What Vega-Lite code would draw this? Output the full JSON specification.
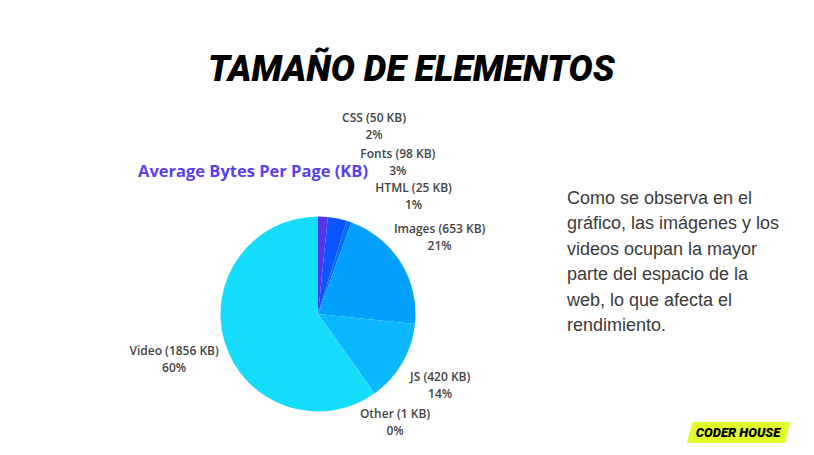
{
  "$schema": "https://vega.github.io/schema/vega-lite/v6.json",
  "background": "white",
  "padding": {"left": 129, "top": 51, "right": 0, "bottom": 0},
  "title": {
    "text": "TAMAÑO DE ELEMENTOS",
    "font": "Roboto",
    "fontSize": 36,
    "fontWeight": 900,
    "fontStyle": "italic",
    "color": "#000000",
    "anchor": "middle",
    "offset": 23,
    "dx": -57
  },
  "config": {"view": {"stroke": null}},
  "datasets": {
    "bytes": [
      {"cat": "CSS", "idx": 1, "kb": 50, "label": "CSS (50 KB)\n2%"},
      {"cat": "Fonts", "idx": 2, "kb": 98, "label": "Fonts (98 KB)\n3%"},
      {"cat": "HTML", "idx": 3, "kb": 25, "label": "HTML (25 KB)\n1%"},
      {"cat": "Images", "idx": 4, "kb": 653, "label": "Images (653 KB)\n21%"},
      {"cat": "JS", "idx": 5, "kb": 420, "label": "JS (420 KB)\n14%"},
      {"cat": "Other", "idx": 6, "kb": 1, "label": "Other (1 KB)\n0%"},
      {"cat": "Video", "idx": 7, "kb": 1856, "label": "Video (1856 KB)\n60%"}
    ],
    "para": [
      {"line": 1, "text": "Como se observa en el"},
      {"line": 2, "text": "gráfico, las imágenes y los"},
      {"line": 3, "text": "videos ocupan la mayor"},
      {"line": 4, "text": "parte del espacio de la"},
      {"line": 5, "text": "web, lo que afecta el"},
      {"line": 6, "text": "rendimiento."}
    ],
    "logo": [{"name": "CODER HOUSE"}]
  },
  "hconcat": [
    {
      "width": 360,
      "height": 256,
      "title": {
        "text": "Average Bytes Per Page (KB)",
        "font": "Open Sans",
        "fontSize": 16.5,
        "fontWeight": "bold",
        "color": "#5b40ee",
        "anchor": "start",
        "frame": "group",
        "offset": 0,
        "dy": 69
      },
      "data": {"name": "bytes"},
      "encoding": {
        "theta": {"field": "kb", "type": "quantitative", "stack": true},
        "order": {"field": "idx", "type": "quantitative"}
      },
      "layer": [
        {
          "mark": {"type": "arc", "outerRadius": 97.5},
          "encoding": {
            "color": {
              "field": "cat",
              "type": "nominal",
              "scale": {
                "domain": ["CSS", "Fonts", "HTML", "Images", "JS", "Other", "Video"],
                "range": ["#5535e8", "#0a55ff", "#0070fb", "#03a0fd", "#0bb8fd", "#12c8fc", "#16dcfb"]
              },
              "legend": null
            }
          }
        },
        {
          "mark": {
            "type": "text",
            "font": "Open Sans",
            "fontSize": 12,
            "fontWeight": 600,
            "color": "#444444",
            "lineBreak": "\n",
            "lineHeight": 17,
            "align": "center",
            "baseline": "middle",
            "dy": -8.5
          },
          "encoding": {
            "text": {
              "condition": {"test": "indexof(['Images','JS','Other','Video'], datum.cat) >= 0", "field": "label"},
              "value": ""
            },
            "radius": {
              "field": "kb",
              "type": "quantitative",
              "scale": {"type": "sqrt", "domain": [1, 1856], "range": [133, 151], "zero": false}
            }
          }
        },
        {
          "mark": {
            "type": "text",
            "font": "Open Sans",
            "fontSize": 12,
            "fontWeight": 600,
            "color": "#444444",
            "lineBreak": "\n",
            "lineHeight": 17,
            "align": "center",
            "baseline": "middle",
            "radius": 188,
            "dx": 46.5,
            "dy": -8.5
          },
          "encoding": {
            "text": {
              "condition": {"test": "datum.cat === 'CSS'", "field": "label"},
              "value": ""
            }
          }
        },
        {
          "mark": {
            "type": "text",
            "font": "Open Sans",
            "fontSize": 12,
            "fontWeight": 600,
            "color": "#444444",
            "lineBreak": "\n",
            "lineHeight": 17,
            "align": "center",
            "baseline": "middle",
            "radius": 155,
            "dx": 49,
            "dy": -8.5
          },
          "encoding": {
            "text": {
              "condition": {"test": "datum.cat === 'Fonts'", "field": "label"},
              "value": ""
            }
          }
        },
        {
          "mark": {
            "type": "text",
            "font": "Open Sans",
            "fontSize": 12,
            "fontWeight": 600,
            "color": "#444444",
            "lineBreak": "\n",
            "lineHeight": 17,
            "align": "center",
            "baseline": "middle",
            "radius": 124,
            "dx": 56,
            "dy": -8.5
          },
          "encoding": {
            "text": {
              "condition": {"test": "datum.cat === 'HTML'", "field": "label"},
              "value": ""
            }
          }
        }
      ]
    },
    {
      "vconcat": [
        {
          "width": 240,
          "height": 153,
          "data": {"name": "para"},
          "mark": {
            "type": "text",
            "font": "Liberation Sans",
            "fontSize": 18,
            "color": "#3b3b3b",
            "align": "left",
            "baseline": "middle"
          },
          "encoding": {
            "y": {"field": "line", "type": "ordinal", "axis": null},
            "x": {"value": 0},
            "text": {"field": "text"}
          }
        },
        {
          "width": 240,
          "height": 21,
          "data": {"name": "logo"},
          "layer": [
            {
              "mark": {
                "type": "point",
                "shape": "M 5.7 -10.5 L 103 -10.5 L 98 10.5 L -0.3 10.5 Z",
                "size": 4,
                "filled": true,
                "color": "#e2fb2b",
                "opacity": 1
              },
              "encoding": {}
            },
            {
              "mark": {
                "type": "text",
                "font": "Roboto",
                "fontSize": 13,
                "fontWeight": 900,
                "fontStyle": "italic",
                "color": "#000000",
                "align": "center",
                "baseline": "middle",
                "dx": 51
              },
              "encoding": {"text": {"field": "name"}}
            }
          ]
        }
      ],
      "spacing": 83
    }
  ],
  "spacing": 40
}
